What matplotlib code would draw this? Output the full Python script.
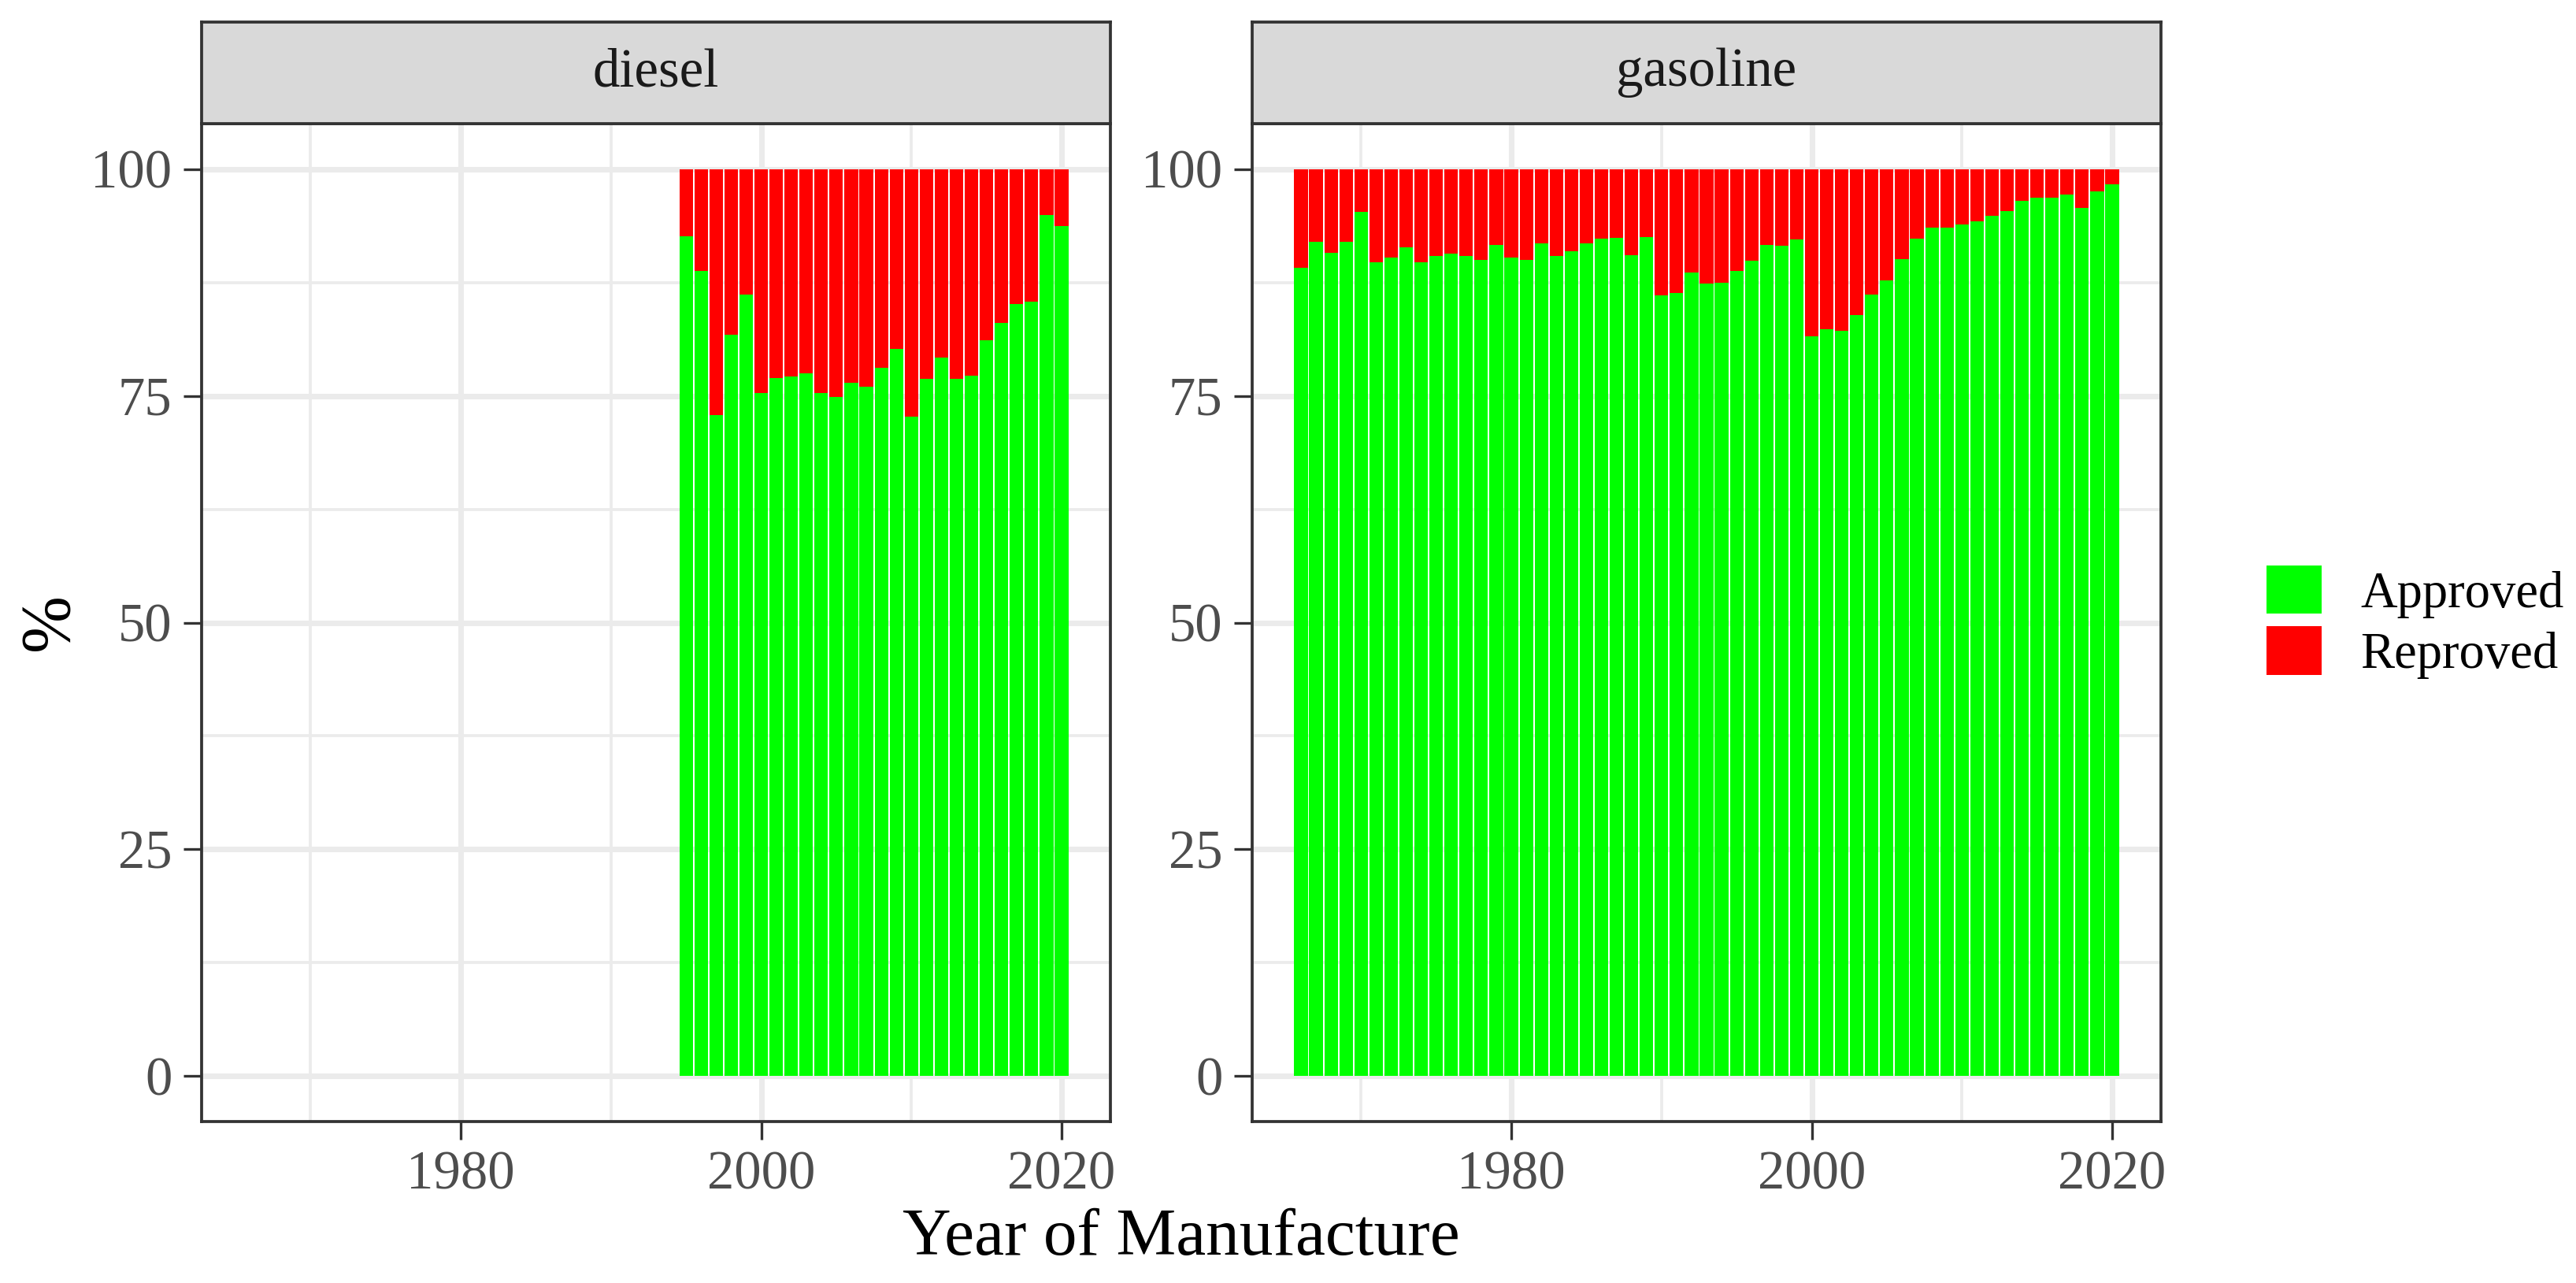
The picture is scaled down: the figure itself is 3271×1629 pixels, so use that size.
import numpy as np
import matplotlib
matplotlib.use('Agg')
import matplotlib.pyplot as plt
from matplotlib.patches import Patch

plt.rcParams['font.family'] = ['Liberation Serif', 'DejaVu Serif']

# approved share (%) by year of manufacture
diesel_years = list(range(1995, 2021))
diesel_approved = [92.6, 88.8, 72.9, 81.7, 86.2, 75.3, 77.0, 77.1, 77.5, 75.3,
                   74.9, 76.4, 76.0, 78.1, 80.2, 72.7, 76.9, 79.2, 76.9, 77.2,
                   81.1, 83.0, 85.1, 85.4, 94.9, 93.7]

gasoline_years = list(range(1966, 2021))
gasoline_approved = [89.1, 92.0, 90.8, 92.0, 95.3, 89.7, 90.2, 91.4, 89.7, 90.4,
                     90.7, 90.4, 90.0, 91.6, 90.2, 90.0, 91.8, 90.4, 90.9, 91.8,
                     92.3, 92.4, 90.5, 92.5, 86.1, 86.3, 88.6, 87.4, 87.5, 88.8,
                     89.9, 91.6, 91.5, 92.2, 81.6, 82.3, 82.2, 83.9, 86.2, 87.7,
                     90.1, 92.3, 93.5, 93.5, 93.9, 94.2, 94.8, 95.4, 96.5, 96.8,
                     96.8, 97.2, 95.7, 97.5, 98.3]

panels = [('diesel', diesel_years, diesel_approved),
          ('gasoline', gasoline_years, gasoline_approved)]
labels = ['Approved', 'Reproved']
colors = ['#00FF00', '#FF0000']

W, H = 3271, 1629
fig = plt.figure(figsize=(W / 300, H / 300), dpi=300)

panel_left = [256, 1590]
panel_w = 1154
panel_top, panel_bot = 157, 1424
strip_top = 28

for (name, years, approved), px in zip(panels, panel_left):
    ax = fig.add_axes([px / W, 1 - panel_bot / H, panel_w / W, (panel_bot - panel_top) / H])
    years = np.array(years)
    approved = np.array(approved)
    reproved = 100 - approved
    ax.bar(years, approved, width=0.9, color=colors[0], linewidth=0)
    ax.bar(years, reproved, width=0.9, bottom=approved, color=colors[1], linewidth=0)

    ax.set_xlim(1962.75, 2023.25)
    ax.set_ylim(-5, 105)
    ax.set_xticks([1980, 2000, 2020])
    ax.set_xticks([1970, 1990, 2010], minor=True)
    ax.set_yticks([0, 25, 50, 75, 100])
    ax.set_yticks([12.5, 37.5, 62.5, 87.5], minor=True)
    ax.set_axisbelow(True)
    ax.grid(which='major', color='#EBEBEB', linewidth=1.7)
    ax.grid(which='minor', color='#EBEBEB', linewidth=0.9)
    ax.tick_params(which='major', length=5.5, width=0.8, color='#333333',
                   labelsize=16.5, labelcolor='#4D4D4D', pad=3.5)
    ax.tick_params(which='minor', length=0)
    for s in ax.spines.values():
        s.set_color('#333333')
        s.set_linewidth(0.9)

    # facet strip
    sax = fig.add_axes([px / W, 1 - panel_top / H, panel_w / W, (panel_top - strip_top) / H])
    sax.set_facecolor('#D9D9D9')
    sax.set_xticks([])
    sax.set_yticks([])
    for s in sax.spines.values():
        s.set_color('#333333')
        s.set_linewidth(0.9)
    sax.text(0.5, 0.5, name, ha='center', va='center', fontsize=16.5,
             color='#1A1A1A', transform=sax.transAxes)

fig.text(1500 / W, 1 - 1572 / H, 'Year of Manufacture', ha='center', va='center',
         fontsize=20.5)
fig.text(63 / W, 1 - 790 / H, '%', ha='center', va='center', rotation=90,
         fontsize=21)

handles = [Patch(facecolor=c, edgecolor='none') for c in colors]
fig.legend(handles, labels, loc='center left', bbox_to_anchor=(2878 / W, 1 - 790 / H),
           frameon=False, fontsize=15.5, handlelength=1.08, handleheight=1.08,
           handletextpad=0.77, labelspacing=0.17, borderpad=0, borderaxespad=0)

fig.savefig('out.png', dpi=300)
